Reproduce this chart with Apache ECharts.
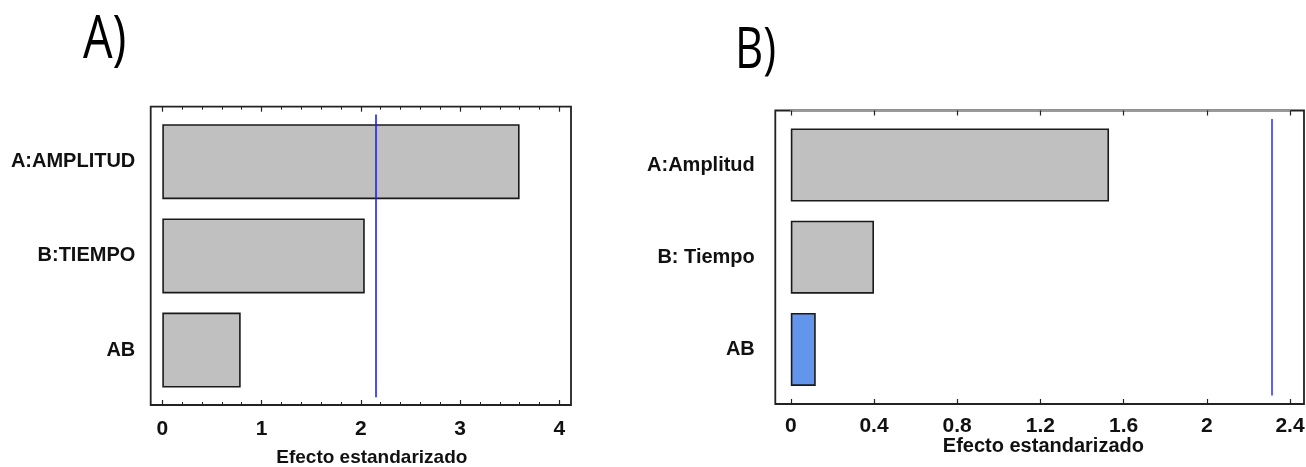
<!DOCTYPE html>
<html>
<head>
<meta charset="utf-8">
<script src="https://cdn.jsdelivr.net/npm/echarts@6/dist/echarts.min.js"></script>
<style>
html,body{margin:0;padding:0;background:#fff;}
#chart{width:1306px;height:467px;}
</style>
</head>
<body>
<div id="chart"></div>
<script>
// ---- Data ----
const categoriesA = ['A:AMPLITUD', 'B:TIEMPO', 'AB'];
const valuesA = [3.6, 2.04, 0.79];
const refLineA = 2.15;
const xTicksA = [0, 1, 2, 3, 4];

const categoriesB = ['A:Amplitud', 'B: Tiempo', 'AB'];
const valuesB = [1.53, 0.4, 0.12];
const refLineB = 2.31;
const xTicksB = [0, 0.4, 0.8, 1.2, 1.6, 2, 2.4];

const axisName = 'Efecto estandarizado';
const panelTitles = ['A)', 'B)'];

// ---- Styling ----
const FONT = '"Liberation Sans", Arial, sans-serif';
const TITLE_FONT = '"Open Sans", "Noto Sans", sans-serif';
const frameColor = '#222';
const labelStyle = {color: '#111', fontFamily: FONT, fontWeight: 'bold', fontSize: 20};
const tickLabelStyle = {color: '#111', fontFamily: FONT, fontWeight: 'bold', fontSize: 21};
const nameStyle = {color: '#111', fontFamily: FONT, fontWeight: 'bold', fontSize: 19};

function fmt(v){ return String(Math.round(v*10)/10); }

function frameGrid(left, top, width, height){
  return {left, top, width, height, show: true, borderColor: frameColor, borderWidth: 1.8,
          backgroundColor: 'transparent', outerBoundsMode: 'none', containLabel: false};
}
function dataGrid(left, top, width, height){
  return {left, top, width, height, outerBoundsMode: 'none', containLabel: false};
}

const chart = echarts.init(document.getElementById('chart'), null, {renderer: 'canvas'});

const stepA = xTicksA[1] - xTicksA[0];
const stepB = +(xTicksB[1] - xTicksB[0]).toFixed(2);

const option = {
  animation: false,
  backgroundColor: '#fff',
  graphic: [
    {type: 'text', left: 83, top: 11, scaleX: 0.78,
     style: {text: panelTitles[0], font: 'normal 60px ' + TITLE_FONT, fill: '#000'}},
    {type: 'text', left: 735, top: 24, scaleX: 0.78,
     style: {text: panelTitles[1], font: 'normal 56px ' + TITLE_FONT, fill: '#000'}}
  ],
  grid: [
    frameGrid(150.7, 106.7, 420.3, 298.3),
    dataGrid(162.3, 114.6, 397, 282.6),
    frameGrid(775.3, 110.5, 528.7, 293.5),
    dataGrid(790.8, 118.9, 499.2, 276.6)
  ],
  xAxis: [
    {gridIndex: 0, type: 'value', show: false, min: 0, max: 1},
    {
      gridIndex: 1, type: 'value', position: 'bottom', offset: 7.8,
      min: xTicksA[0], max: xTicksA[xTicksA.length-1], interval: stepA,
      axisLine: {show: false}, splitLine: {show: false},
      axisTick: {show: true, inside: true, length: 5, lineStyle: {color: frameColor, width: 1.2}},
      minorTick: {show: true, splitNumber: 5, length: 3, lineStyle: {color: frameColor, width: 1}},
      axisLabel: Object.assign({margin: 14, formatter: fmt}, tickLabelStyle),
      name: axisName, nameLocation: 'middle', nameGap: 43, nameMoveOverlap: false,
      nameTextStyle: Object.assign({padding: [0, 0, 0, 22]}, nameStyle)
    },
    {
      gridIndex: 1, type: 'value', position: 'top', offset: 7.9,
      min: xTicksA[0], max: xTicksA[xTicksA.length-1], interval: stepA,
      axisLine: {show: false}, splitLine: {show: false},
      axisTick: {show: true, inside: true, length: 5, lineStyle: {color: frameColor, width: 1.2}},
      minorTick: {show: true, splitNumber: 5, length: 3, lineStyle: {color: frameColor, width: 1}},
      axisLabel: {show: false}
    },
    {gridIndex: 2, type: 'value', show: false, min: 0, max: 1},
    {
      gridIndex: 3, type: 'value', position: 'bottom', offset: 8.5,
      min: xTicksB[0], max: xTicksB[xTicksB.length-1], interval: stepB,
      axisLine: {show: false}, splitLine: {show: false},
      axisTick: {show: true, inside: true, length: 5, lineStyle: {color: frameColor, width: 1.2}},
      axisLabel: Object.assign({margin: 12, formatter: fmt}, tickLabelStyle),
      name: axisName, nameLocation: 'middle', nameGap: 32, nameMoveOverlap: false,
      nameTextStyle: Object.assign({padding: [0, 0, 0, 6]}, nameStyle, {fontSize: 20})
    },
    {
      gridIndex: 3, type: 'value', position: 'top', offset: 8.4,
      min: xTicksB[0], max: xTicksB[xTicksB.length-1], interval: stepB,
      axisLine: {show: true, lineStyle: {color: '#9a9a9a', width: 1.8}}, splitLine: {show: false},
      axisTick: {show: true, inside: true, length: 5, lineStyle: {color: frameColor, width: 1.2}},
      axisLabel: {show: false}
    }
  ],
  yAxis: [
    {gridIndex: 0, type: 'value', show: false, min: 0, max: 1},
    {
      gridIndex: 1, type: 'category', data: categoriesA, inverse: true,
      axisLine: {show: false}, axisTick: {show: false}, splitLine: {show: false},
      axisLabel: Object.assign({margin: 27}, labelStyle)
    },
    {gridIndex: 2, type: 'value', show: false, min: 0, max: 1},
    {
      gridIndex: 3, type: 'category', data: categoriesB, inverse: true,
      axisLine: {show: false}, axisTick: {show: false}, splitLine: {show: false},
      axisLabel: Object.assign({margin: 36}, labelStyle)
    }
  ],
  series: [
    {
      type: 'bar', xAxisIndex: 1, yAxisIndex: 1, data: valuesA, barWidth: 75,
      itemStyle: {color: '#c0c0c0', borderColor: '#1a1a1a', borderWidth: 1.6},
      markLine: {
        silent: true, symbol: ['none', 'none'], label: {show: false},
        lineStyle: {color: '#1f1fff', width: 1.6, type: 'solid'},
        data: [{xAxis: refLineA}]
      }
    },
    {
      type: 'bar', xAxisIndex: 4, yAxisIndex: 3, barWidth: 73,
      data: valuesB.map((v, i) => ({value: v, itemStyle: {color: categoriesB[i] === 'AB' ? '#6495ed' : '#c0c0c0'}})),
      itemStyle: {borderColor: '#1a1a1a', borderWidth: 1.6},
      markLine: {
        silent: true, symbol: ['none', 'none'], label: {show: false},
        lineStyle: {color: '#6060ff', width: 2, type: 'solid'},
        data: [{xAxis: refLineB}]
      }
    }
  ]
};

chart.setOption(option);
</script>
</body>
</html>
